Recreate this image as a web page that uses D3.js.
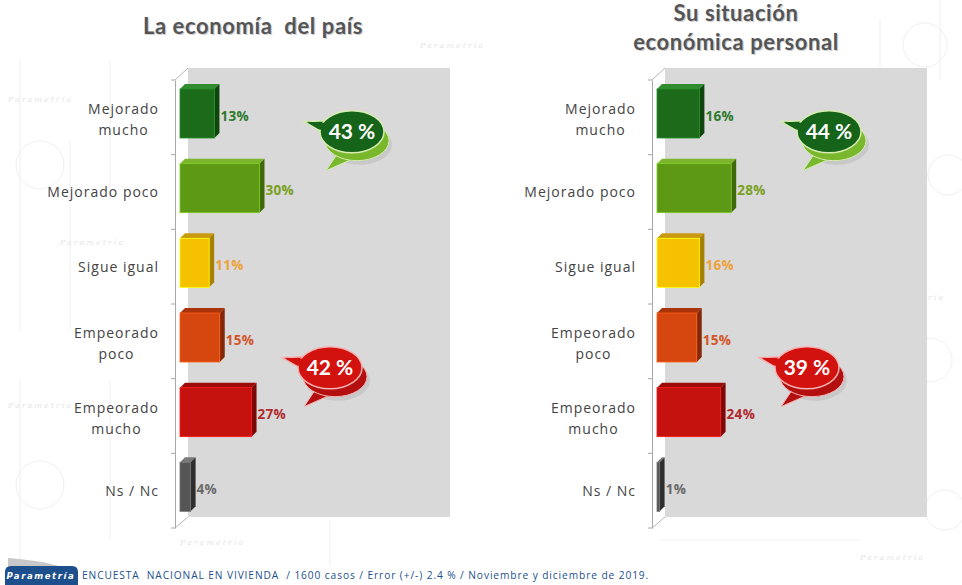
<!DOCTYPE html>
<html>
<head>
<meta charset="utf-8">
<script src="https://cdn.jsdelivr.net/npm/d3@7"></script>
<style>
  body { margin: 0; background: #fff; }
  svg { display: block; }
</style>
</head>
<body>
<div id="chart"></div>
<script>
document.addEventListener('DOMContentLoaded', () => {

  const width = 962;
  const height = 585;

  // data
  const categories = ['Mejorado\nmucho', 'Mejorado poco', 'Sigue igual', 'Empeorado\npoco', 'Empeorado\nmucho', 'Ns / Nc'];
  const paisValues = [13, 30, 11, 15, 27, 4];
  const personalValues = [16, 28, 16, 15, 24, 1];
  const paisTotals = [43, 42];       // mejorado, empeorado
  const personalTotals = [44, 39];
  const paisTitle = ['La economía  del país'];
  const personalTitle = ['Su situación', 'económica personal'];
  const footerText = 'ENCUESTA  NACIONAL EN VIVIENDA  / 1600 casos / Error (+/-) 2.4 % / Noviembre y diciembre de 2019.';

  // front, top, side, label
  const barColors = [
    ['#1b6b1b', '#2f8c2f', '#0e460e', '#2e7a2e'],
    ['#5e9916', '#7cb52c', '#3e6a0a', '#78a020'],
    ['#f6c200', '#c99a10', '#a88000', '#eda23a'],
    ['#d6470f', '#a9330a', '#85280a', '#d2562a'],
    ['#c6120f', '#9e0c0a', '#7c0808', '#b02a2e'],
    ['#555555', '#7a7a7a', '#2e2e2e', '#6a6a6a']
  ];

  const svg = d3.select('#chart')
                .append('svg')
                .attr('width', width)
                .attr('height', height);

  // faint watermark in the background
  const wm = svg.append('g').attr('stroke', '#efefef').attr('fill', 'none');
  [[20, 60, 20, 330], [70, 140, 70, 330], [110, 60, 110, 200], [20, 380, 20, 560], [110, 380, 110, 540],
   [880, 20, 880, 120], [940, 0, 940, 80], [900, 380, 900, 470], [660, 540, 860, 540], [330, 520, 330, 565]]
    .forEach((l) => wm.append('line').attr('x1', l[0]).attr('y1', l[1]).attr('x2', l[2]).attr('y2', l[3]));
  [[40, 165, 24], [40, 485, 24], [925, 45, 22], [948, 175, 20], [930, 360, 22], [945, 510, 20]]
    .forEach((c) => wm.append('circle').attr('cx', c[0]).attr('cy', c[1]).attr('r', c[2]));
  [[8, 102], [8, 408], [60, 245], [420, 48], [180, 545], [860, 560], [880, 300]]
    .forEach((p) => svg.append('text').attr('x', p[0]).attr('y', p[1])
      .text('Parametría').style('font-family', 'DejaVu Serif').style('font-style', 'italic')
      .style('font-size', '8px').style('letter-spacing', '2px').style('fill', '#e6e6e6'));

  const drawPanel = (axisX, values, totals, title, titleX, titleY) => {
    const g = svg.append('g');

    const y = d3.scaleBand()
                .domain(categories)
                .range([80, 528])
                .padding(0);

    const x = d3.scaleLinear()
                .domain([0, 100])
                .range([axisX + 5, axisX + 270]);

    // back wall
    g.append('rect')
      .attr('x', axisX + 13)
      .attr('y', 68)
      .attr('width', 262)
      .attr('height', 449)
      .attr('fill', '#d9d9d9');

    // 3D edges
    g.append('line').attr('x1', axisX).attr('y1', 80).attr('x2', axisX + 13).attr('y2', 68)
      .attr('stroke', '#b5b5b5');
    g.append('line').attr('x1', axisX).attr('y1', 528).attr('x2', axisX + 13).attr('y2', 517)
      .attr('stroke', '#b5b5b5');

    // category axis
    const axis = g.append('g')
                  .attr('transform', 'translate(' + axisX + ',0)')
                  .call(d3.axisLeft(y).tickSize(0).tickFormat(''));
    axis.select('.domain').attr('stroke', '#a8a8a8');
    const bounds = categories.map((c) => y(c)).concat([528]);
    g.selectAll('.tickmark')
      .data(bounds)
      .enter()
      .append('line')
      .attr('x1', axisX - 4)
      .attr('x2', axisX)
      .attr('y1', (d) => d)
      .attr('y2', (d) => d)
      .attr('stroke', '#a8a8a8');

    // category labels
    const labels = g.selectAll('.cat')
                    .data(categories)
                    .enter()
                    .append('text')
                    .attr('class', 'cat')
                    .style('font-family', 'Open Sans')
                    .style('font-size', '14px')
                    .style('letter-spacing', '1px')
                    .style('fill', '#444');
    labels.each(function (d) {
      const lines = d.split('\n');
      const t = d3.select(this);
      const cy = y(d) + y.bandwidth() / 2;
      lines.forEach((line, i) => {
        t.append('tspan')
          .attr('x', 0)
          .attr('y', lines.length === 1 ? cy + 5 : cy - 3 + i * 21)
          .text(line);
      });
      // multi-line labels are centered as a block whose right edge sits near the axis
      let maxW = 0;
      t.selectAll('tspan').each(function () { maxW = Math.max(maxW, this.getComputedTextLength()); });
      const right = axisX - 16;
      if (lines.length === 1) {
        t.attr('text-anchor', 'end').selectAll('tspan').attr('x', right);
      } else {
        t.attr('text-anchor', 'middle').selectAll('tspan').attr('x', right - maxW / 2);
      }
    });

    // 3D bars
    const dx = 5, dy = -5;
    const bh = 49;
    const bars = g.selectAll('.bar')
                  .data(values)
                  .enter()
                  .append('g')
                  .attr('class', 'bar');

    bars.each(function (v, i) {
      const b = d3.select(this);
      const x0 = x(0);
      const w = x(v) - x(0);
      const y0 = y(categories[i]) + 9;
      const c = barColors[i];
      b.append('polygon')
        .attr('points', [[x0, y0], [x0 + dx, y0 + dy], [x0 + w + dx, y0 + dy], [x0 + w, y0]].join(' '))
        .attr('fill', c[1]);
      b.append('polygon')
        .attr('points', [[x0 + w, y0], [x0 + w + dx, y0 + dy], [x0 + w + dx, y0 + bh + dy], [x0 + w, y0 + bh]].join(' '))
        .attr('fill', c[2]);
      b.append('rect')
        .attr('x', x0)
        .attr('y', y0)
        .attr('width', w)
        .attr('height', bh)
        .attr('fill', c[0])
        .attr('stroke', d3.color(c[0]).brighter(0.8))
        .attr('stroke-width', 0.8);
      b.append('text')
        .attr('x', x0 + w + dx + 1)
        .attr('y', y0 + bh / 2 + 7)
        .text(v + '%')
        .style('font-family', 'Open Sans')
        .style('font-weight', 'bold')
        .style('font-size', '13.5px')
        .style('letter-spacing', '0.3px')
        .style('fill', c[3]);
    });

    // speech bubbles with the sums
    const bubble = (cx, cy, val, dark, back, rim) => {
      const bg = g.append('g');
      bg.append('ellipse')
        .attr('cx', cx + 8).attr('cy', cy + 13).attr('rx', 32).attr('ry', 20)
        .attr('fill', '#000').attr('opacity', 0.08);
      bg.append('path')
        .attr('d', 'M' + (cx - 16) + ',' + (cy + 24) + ' L' + (cx - 26) + ',' + (cy + 39) +
                   ' L' + (cx - 1) + ',' + (cy + 28) + ' Z')
        .attr('fill', back).attr('stroke', rim).attr('stroke-width', 1);
      bg.append('ellipse')
        .attr('cx', cx + 5).attr('cy', cy + 9).attr('rx', 32).attr('ry', 20)
        .attr('fill', back).attr('stroke', rim).attr('stroke-width', 1);
      bg.append('path')
        .attr('d', 'M' + (cx - 27) + ',' + (cy - 11) + ' L' + (cx - 48) + ',' + (cy - 10) +
                   ' L' + (cx - 22) + ',' + (cy + 5) + ' Z')
        .attr('fill', dark).attr('stroke', rim).attr('stroke-width', 1.5);
      bg.append('ellipse')
        .attr('cx', cx).attr('cy', cy).attr('rx', 32).attr('ry', 21)
        .attr('fill', dark).attr('stroke', rim).attr('stroke-width', 1.5);
      bg.append('path')
        .attr('d', 'M' + (cx - 28) + ',' + (cy - 9) + ' L' + (cx - 45) + ',' + (cy - 10) +
                   ' L' + (cx - 23) + ',' + (cy + 3) + ' Z')
        .attr('fill', dark);
      bg.append('text')
        .attr('x', cx).attr('y', cy + 7)
        .attr('text-anchor', 'middle')
        .text(val + ' %')
        .style('font-family', 'Lato')
        .style('font-weight', 'bold')
        .style('font-size', '21px')
        .style('fill', '#fff');
    };

    const wallX = axisX + 13;
    bubble(wallX + 164, y(categories[1]) - 23, totals[0], '#16641a', '#79b82c', '#d6ecb0');
    bubble(wallX + 142, y(categories[4]) - 11, totals[1], '#d2120e', '#b40f0f', '#f6b3b3');

    // title
    title.forEach((line, i) => {
      [['#d0d0d0', 1.2], ['#555', 0]].forEach((s) => {
        g.append('text')
          .attr('x', titleX + s[1])
          .attr('y', titleY + i * 29 + s[1])
          .attr('text-anchor', 'middle')
          .attr('xml:space', 'preserve')
          .text(line)
          .style('white-space', 'pre')
          .style('font-family', 'Lato')
          .style('font-weight', 'bold')
          .style('font-size', '22px')
          .style('letter-spacing', '0.6px')
          .style('fill', s[0]);
      });
    });
  };

  drawPanel(175, paisValues, paisTotals, paisTitle, 253, 34);
  drawPanel(652, personalValues, personalTotals, personalTitle, 736, 21);

  // footer
  svg.append('path')
     .attr('d', 'M8,558 Q40,560 66,568 L8,568 Z')
     .attr('fill', '#c8c8c8');
  svg.append('path')
     .attr('d', 'M5,585 L5,572 Q5,566 11,566 L72,566 Q78,566 78,572 L78,585 Z')
     .attr('fill', '#1d4f8c');
  svg.append('text')
     .attr('x', 41).attr('y', 579)
     .attr('text-anchor', 'middle')
     .text('Parametría')
     .style('font-family', 'DejaVu Sans')
     .style('font-style', 'italic')
     .style('font-weight', 'bold')
     .style('font-size', '8.5px')
     .style('letter-spacing', '1.6px')
     .style('fill', '#fff');
  svg.append('text')
     .attr('x', 82).attr('y', 579)
     .attr('xml:space', 'preserve')
     .text(footerText)
     .style('white-space', 'pre')
     .style('font-family', 'Open Sans')
     .style('font-size', '10.2px')
     .style('letter-spacing', '0.9px')
     .style('fill', '#1d4f8c');

});
</script>
</body>
</html>
